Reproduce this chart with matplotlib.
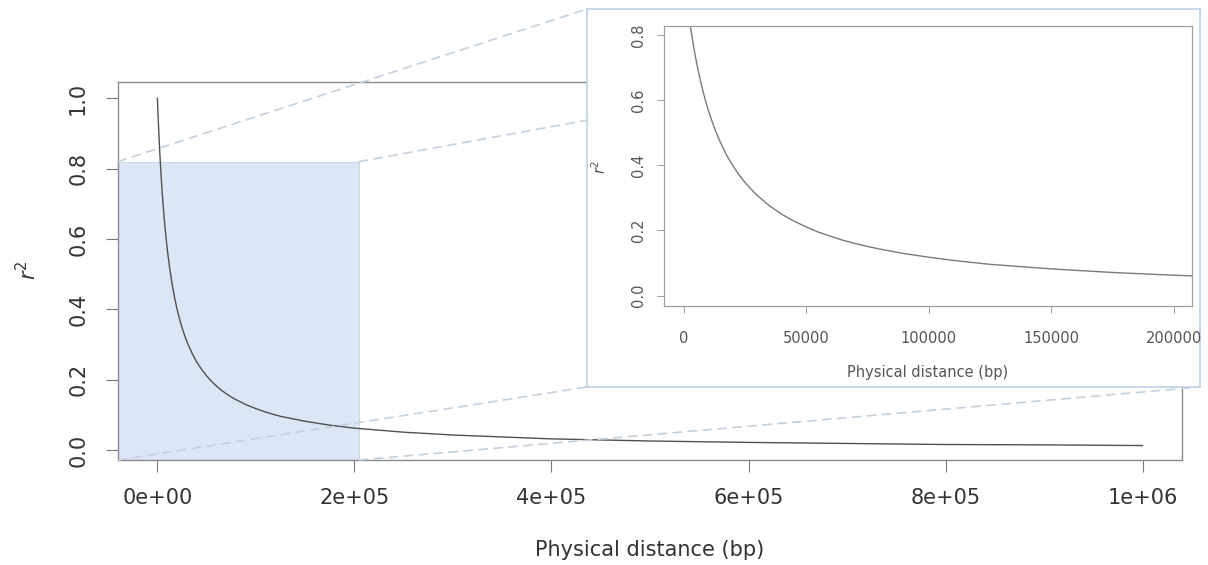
"""
LD decay plot (r^2 vs physical distance) with a zoomed inset.
"""

# %%
import matplotlib.pyplot as plt
from matplotlib.patches import Rectangle, ConnectionPatch


# %% data
distance = [0, 500, 1000, 1500, 2000, 2500, 3000, 3500, 4000, 5000, 6000,
            7000, 8000, 9000, 10000, 12500, 15000, 17500, 20000, 22500,
            25000, 27500, 30000, 35000, 40000, 45000, 50000, 55000, 60000,
            65000, 70000, 75000, 80000, 90000, 100000, 110000, 125000,
            150000, 175000, 200000, 250000, 300000, 400000, 500000,
            600000, 700000, 800000, 900000, 1000000]
r2 = [1.000, 0.964, 0.930, 0.899, 0.870, 0.842, 0.816, 0.792, 0.769, 0.727,
      0.690, 0.656, 0.625, 0.597, 0.571, 0.516, 0.471, 0.432, 0.400, 0.372,
      0.348, 0.327, 0.308, 0.276, 0.250, 0.229, 0.211, 0.195, 0.182,
      0.170, 0.160, 0.151, 0.143, 0.129, 0.118, 0.108, 0.096,
      0.082, 0.071, 0.0625, 0.051, 0.043, 0.032, 0.026,
      0.022, 0.019, 0.016, 0.015, 0.013]

main_xticks = [0, 200000, 400000, 600000, 800000, 1000000]
main_xticklabels = ['0e+00', '2e+05', '4e+05', '6e+05', '8e+05', '1e+06']
main_yticks = [0.0, 0.2, 0.4, 0.6, 0.8, 1.0]
inset_xticks = [0, 50000, 100000, 150000, 200000]
inset_yticks = [0.0, 0.2, 0.4, 0.6, 0.8]

main_xlim = (-40000, 1040000)
main_ylim = (-0.028, 1.046)
inset_xlim = (-8000, 207500)
inset_ylim = (-0.032, 0.828)
zoom_xmax = 205000   # right edge of highlighted region
zoom_ymax = 0.82     # top edge of highlighted region

xlabel = 'Physical distance (bp)'
ylabel = r'$r^2$'


# %% figure
W, H = 1208, 565
fig = plt.figure(figsize=(W / 100, H / 100), dpi=100)

def fig_rect(l, t, r, b):
    # pixel box -> figure fraction [left, bottom, width, height]
    return [l / W, 1 - b / H, (r - l) / W, (b - t) / H]

ax = fig.add_axes(fig_rect(118, 82, 1182, 460))
ax.set_zorder(0)
ax.plot(distance, r2, color='#505050', lw=1.0, zorder=3)
ax.add_patch(Rectangle((main_xlim[0], main_ylim[0]), zoom_xmax - main_xlim[0],
                       zoom_ymax - main_ylim[0], facecolor='#dbe7f5',
                       edgecolor='#c9d8ea', lw=0.8, zorder=1))
ax.set_xlim(main_xlim)
ax.set_ylim(main_ylim)
ax.set_xticks(main_xticks)
ax.set_xticklabels(main_xticklabels)
ax.set_yticks(main_yticks)
ax.set_yticklabels([f'{v:.1f}' for v in main_yticks])
ax.tick_params(axis='both', direction='out', length=8.5, width=0.8,
               color='#777777', labelsize=15, labelcolor='#333333', pad=12)
ax.tick_params(axis='y', labelrotation=90, pad=13)
for lab in ax.get_yticklabels():
    lab.set_va('center')
for sp in ax.spines.values():
    sp.set_color('#8a8a8a')
    sp.set_linewidth(1.0)
ax.set_xlabel(xlabel, fontsize=15, color='#333333', labelpad=23)
fig.text(28 / W, 1 - 270 / H, ylabel, fontsize=15, color='#333333',
         rotation=90, ha='center', va='center')

# inset frame (light blue border) and inset axes
frame = fig.add_axes(fig_rect(587, 9, 1200, 387))
frame.set_zorder(2)
frame.set_xticks([])
frame.set_yticks([])
frame.set_facecolor('white')
for sp in frame.spines.values():
    sp.set_color('#bcd2e8')
    sp.set_linewidth(1.2)

axi = fig.add_axes(fig_rect(664, 26, 1192, 306))
axi.set_zorder(3)
axi.plot(distance, r2, color='#7a7a7a', lw=1.0)
axi.set_xlim(inset_xlim)
axi.set_ylim(inset_ylim)
axi.set_xticks(inset_xticks)
axi.set_xticklabels([str(v) for v in inset_xticks])
axi.set_yticks(inset_yticks)
axi.set_yticklabels([f'{v:.1f}' for v in inset_yticks])
axi.tick_params(axis='both', direction='out', length=5, width=0.7,
                color='#999999', labelsize=10.5, labelcolor='#555555', pad=13)
axi.tick_params(axis='y', labelrotation=90, pad=8)
for lab in axi.get_yticklabels():
    lab.set_va('center')
for sp in axi.spines.values():
    sp.set_color('#a0a0a0')
    sp.set_linewidth(0.9)
axi.set_xlabel(xlabel, fontsize=10.5, color='#555555', labelpad=14)
fig.text(600 / W, 1 - 167 / H, ylabel, fontsize=10.5, color='#555555',
         rotation=90, ha='center', va='center')

# dashed connectors from highlighted region corners to inset frame corners
corners = [((main_xlim[0], zoom_ymax), (0, 1)),
           ((zoom_xmax, zoom_ymax), (1, 1)),
           ((main_xlim[0], main_ylim[0]), (0, 0)),
           ((zoom_xmax, main_ylim[0]), (1, 0))]
for xyA, xyB in corners:
    con = ConnectionPatch(xyA=xyA, coordsA=ax.transData,
                          xyB=xyB, coordsB=frame.transAxes,
                          color='#c3d0de', lw=1.2, linestyle=(0, (5, 4)))
    con.set_zorder(1)
    fig.add_artist(con)

fig.savefig('out.png', dpi=100)
